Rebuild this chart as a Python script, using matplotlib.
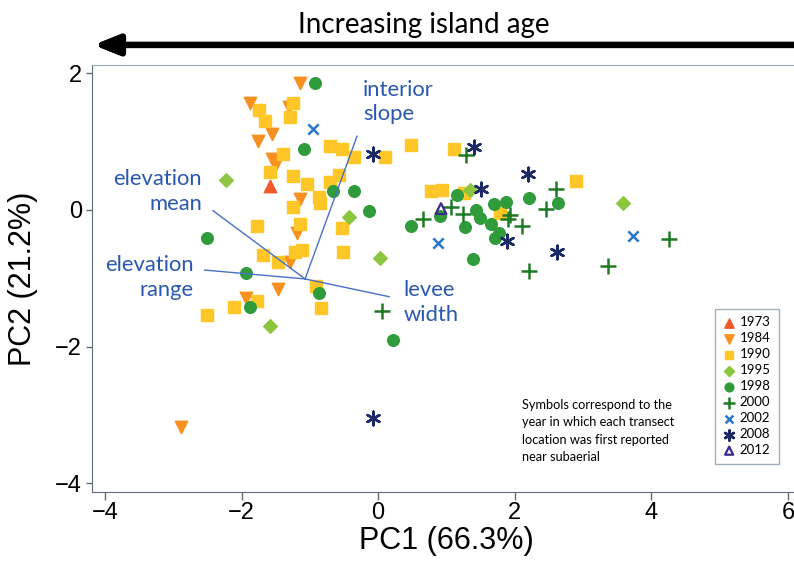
import matplotlib.pyplot as plt

# PCA scores by the year each transect location first appeared
x1973 = [-1.59]
y1973 = [0.35]
x1984 = [-1.15, -1.88, -1.31, -1.55, -1.76, -1.56, -1.49, -1.15, -1.19, -1.29, -1.46, -1.93, -2.89]
y1984 = [1.86, 1.57, 1.51, 1.11, 1.01, 0.74, 0.68, 0.16, -0.33, -0.76, -1.16, -1.29, -3.18]
x1990 = [-1.75, -1.24, -1.29, -1.65, -0.71, -0.53, -0.36, 0.10, -1.39, -1.59, -1.24, -1.04,
         -0.71, -0.58, -0.86, -0.85, -1.25, -1.15, -1.78, -0.53, -1.22, -1.11, -0.51, -1.68,
         -1.46, -0.91, -1.77, -2.11, -2.51, -0.84, 0.48, 1.11, 2.90, 0.78, 0.94, 1.26, 1.78]
y1990 = [1.47, 1.56, 1.36, 1.31, 0.94, 0.90, 0.78, 0.77, 0.82, 0.55, 0.50, 0.38,
         0.41, 0.51, 0.19, 0.10, 0.05, -0.20, -0.23, -0.27, -0.62, -0.59, -0.62, -0.66,
         -0.76, -1.12, -1.33, -1.42, -1.54, -1.44, 0.95, 0.89, 0.42, 0.28, 0.29, 0.25, -0.04]
x1995 = [-2.23, -0.42, 0.02, -1.59, 1.34, 3.59]
y1995 = [0.44, -0.10, -0.70, -1.70, 0.29, 0.10]
x1998 = [-0.92, -1.08, -0.66, -0.36, -0.13, -2.51, -1.93, -0.87, -1.88, 0.22,
         1.16, 2.21, 2.63, 1.69, 1.87, 0.91, 0.48, 1.43, 1.49, 1.65, 1.27, 1.77, 1.71, 1.39]
y1998 = [1.86, 0.89, 0.28, 0.28, -0.02, -0.41, -0.93, -1.21, -1.42, -1.90,
         0.22, 0.17, 0.10, 0.09, 0.11, -0.09, -0.23, 0.00, -0.12, -0.20, -0.25, -0.33, -0.41, -0.72]
x2000 = [0.05, 1.28, 2.61, 2.46, 1.07, 0.66, 1.24, 1.93, 1.90, 2.10, 4.26, 2.21, 3.36]
y2000 = [-1.48, 0.81, 0.30, 0.01, 0.04, -0.13, -0.06, -0.07, -0.13, -0.23, -0.42, -0.89, -0.82]
x2002 = [-0.95, 0.87, 3.73]
y2002 = [1.19, -0.49, -0.38]
x2008 = [-0.08, 1.40, 2.19, 1.51, 1.89, 2.62, -0.07]
y2008 = [0.82, 0.92, 0.53, 0.31, -0.46, -0.62, -3.05]
x2012 = [0.92]
y2012 = [0.02]

# loading vectors (start, end) and their labels
vec_origin = (-1.07, -1.01)
vec_names = ['interior\nslope', 'elevation\nmean', 'elevation\nrange', 'levee\nwidth']
vec_ends = [(-0.31, 1.08), (-2.42, -0.01), (-2.54, -0.88), (0.16, -1.27)]
vec_label_pos = [(-0.22, 1.58, 'left'), (-2.58, 0.27, 'right'), (-2.70, -0.99, 'right'), (0.375, -1.36, 'left')]

plt.rcParams['font.family'] = ['Liberation Sans', 'DejaVu Sans']
label_font = ['Lato', 'DejaVu Sans']
vec_color = '#2a58b0'

fig = plt.figure(figsize=(7.94, 5.69), dpi=100)
ax = fig.add_axes([0.1155, 0.1353, 0.894, 0.7505])

ax.scatter(x1973, y1973, marker='^', s=80, color='#f0582a', label='1973', zorder=3)
ax.scatter(x1984, y1984, marker='v', s=80, color='#f7901e', label='1984', zorder=3)
ax.scatter(x1990, y1990, marker='s', s=65, color='#ffc627', label='1990', zorder=3)
ax.scatter(x1995, y1995, marker='D', s=48, color='#8cc63e', label='1995', zorder=3)
ax.scatter(x1998, y1998, marker='o', s=70, color='#2f9b3b', label='1998', zorder=3)
ax.scatter(x2000, y2000, marker='+', s=120, linewidths=1.8, color='#1f7a25', label='2000', zorder=3)
ax.scatter(x2002, y2002, marker='x', s=55, linewidths=1.8, color='#2677c9', label='2002', zorder=3)
ax.scatter(x2008, y2008, marker=(6, 2, 0), s=95, linewidths=1.8, color='#1b2a66', label='2008', zorder=3)
ax.scatter(x2012, y2012, marker='^', s=60, facecolors='none', edgecolors='#3d2a8c',
           linewidths=1.6, label='2012', zorder=3)

for end in vec_ends:
    ax.plot([vec_origin[0], end[0]], [vec_origin[1], end[1]], color='#4a6fc8', lw=1, zorder=4)

for name, (lx, ly, ha) in zip(vec_names, vec_label_pos):
    ax.text(lx, ly, name, color=vec_color, fontsize=15.8, family=label_font,
            ha=ha, va='center', linespacing=1.3, multialignment=ha)

ax.text(2.10, -3.24, 'Symbols correspond to the\nyear in which each transect\n'
        'location was first reported\nnear subaerial', fontsize=9.2, family=label_font,
        ha='left', va='center', linespacing=1.55)

leg = ax.legend(loc='lower right', bbox_to_anchor=(0.977, 0.05), prop={'family': label_font, 'size': 9.5},
                frameon=True, fancybox=False, handletextpad=0.3, labelspacing=0.3,
                handlelength=1.0, borderpad=0.6, scatterpoints=1, markerscale=0.75)
leg.get_frame().set_edgecolor('#8a9ab0')
leg.get_frame().set_linewidth(1)

ax.set_xlim(-4.195, 6.2)
ax.set_ylim(-4.13, 2.123)
ax.set_xticks([-4, -2, 0, 2, 4, 6])
ax.set_yticks([-4, -2, 0, 2])
ax.tick_params(axis='x', labelsize=17, length=6, pad=1.5, color='#5f6b78', width=1)
ax.tick_params(axis='y', labelsize=17, length=4, pad=3, color='#5f6b78', width=1)
ax.set_xlabel('PC1 (66.3%)', fontsize=22, labelpad=1)
ax.set_ylabel('PC2 (21.2%)', fontsize=22, labelpad=12)
for side in ['left', 'bottom']:
    ax.spines[side].set_color('#5f6b78')
for side in ['top', 'right']:
    ax.spines[side].set_color('#9aa5ad')

# arrow across the top
fig.text(0.534, 0.942, 'Increasing island age', fontsize=20, family=label_font, ha='center', va='baseline')
fig.add_artist(plt.annotate('', xy=(0.118, 0.921), xycoords='figure fraction',
                            xytext=(1.01, 0.921), textcoords='figure fraction',
                            arrowprops=dict(arrowstyle='-|>,head_length=1.5,head_width=0.6',
                                            lw=4.5, color='black', shrinkA=0, shrinkB=0)))

fig.savefig('out.png', dpi=100)
